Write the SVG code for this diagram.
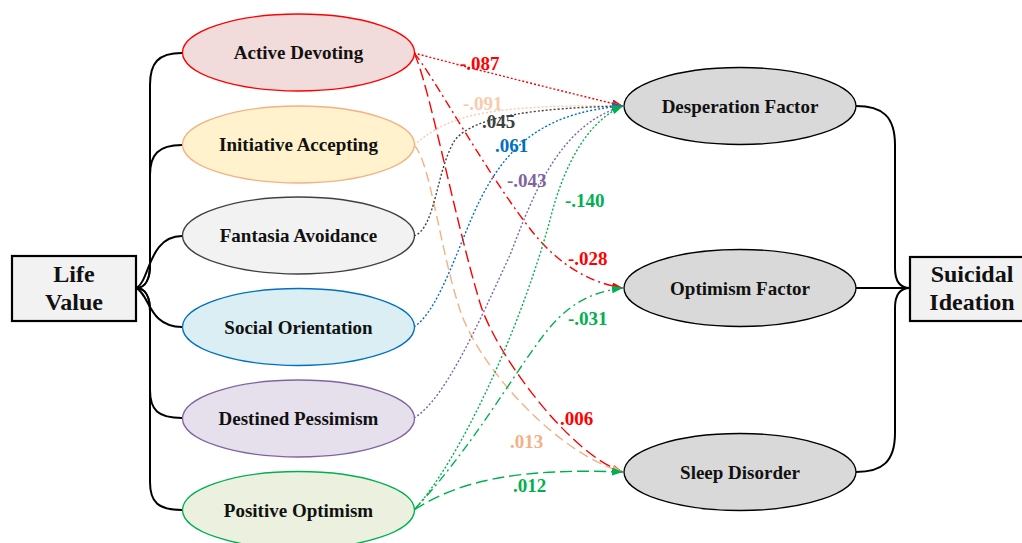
<svg xmlns="http://www.w3.org/2000/svg" width="1022" height="543" viewBox="0 0 1022 543">
<style>
text{font-family:"Liberation Serif","Times New Roman",serif;font-weight:bold;}
.nt{font-size:19px;text-anchor:middle;fill:#111;}
.bt{font-size:24px;text-anchor:middle;fill:#111;}
.lb{font-size:19px;}
.box{fill:#f2f2f2;stroke:#000;stroke-width:2.2;}
.br{fill:none;stroke:#000;stroke-width:2;}
.e{fill:none;stroke-width:1.4;}
.dot{stroke-dasharray:2 2;}
.dd{stroke-dasharray:9 4 2 4;}
.ld{stroke-dasharray:12 5;}
.md{stroke-dasharray:10 5;}
.rt{fill:#d9d9d9;stroke:#000;stroke-width:1.3;}
</style>
<defs>
<marker id="aR" markerUnits="userSpaceOnUse" markerWidth="11" markerHeight="8" refX="11" refY="4" orient="auto"><path d="M0,0 L11,4 L0,8 z" fill="#ff0000"/></marker>
<marker id="aP" markerUnits="userSpaceOnUse" markerWidth="11" markerHeight="8" refX="11" refY="4" orient="auto"><path d="M0,0 L11,4 L0,8 z" fill="#f8cbad"/></marker>
<marker id="aO" markerUnits="userSpaceOnUse" markerWidth="11" markerHeight="8" refX="11" refY="4" orient="auto"><path d="M0,0 L11,4 L0,8 z" fill="#f4b183"/></marker>
<marker id="aK" markerUnits="userSpaceOnUse" markerWidth="11" markerHeight="8" refX="11" refY="4" orient="auto"><path d="M0,0 L11,4 L0,8 z" fill="#404040"/></marker>
<marker id="aB" markerUnits="userSpaceOnUse" markerWidth="11" markerHeight="8" refX="11" refY="4" orient="auto"><path d="M0,0 L11,4 L0,8 z" fill="#0070c0"/></marker>
<marker id="aU" markerUnits="userSpaceOnUse" markerWidth="11" markerHeight="8" refX="11" refY="4" orient="auto"><path d="M0,0 L11,4 L0,8 z" fill="#8064a2"/></marker>
<marker id="aG" markerUnits="userSpaceOnUse" markerWidth="11" markerHeight="8" refX="11" refY="4" orient="auto"><path d="M0,0 L11,4 L0,8 z" fill="#00b050"/></marker>
</defs>

<g id="braces">
<path class="br" d="M136,288 C146,288 150,278 150,265 L150,85 C150,63 158,53 182,53"/>
<path class="br" d="M136,288 C146,288 150,278 150,265 L150,175 C150,155 158,145 182,145"/>
<path class="br" d="M136,288 C150,282 148,236 182,236"/>
<path class="br" d="M136,288 C150,294 148,327 182,327"/>
<path class="br" d="M136,288 C146,288 150,298 150,311 L150,390 C150,410 158,418 182,418"/>
<path class="br" d="M136,288 C146,288 150,298 150,311 L150,482 C150,502 158,510 182,510"/>
<path class="br" d="M856,106 C882,106 895,116 895,145 L895,268 C895,282 900,288 910,288"/>
<path class="br" d="M856,288 L910,288"/>
<path class="br" d="M856,472 C882,472 895,462 895,433 L895,308 C895,294 900,288 910,288"/>
</g>

<g id="connectors">
<path class="e dot" stroke="#ff0000" d="M414,53 Q500,76 623,106" marker-end="url(#aR)"/>
<path class="e dd" stroke="#ff0000" d="M414,53 C430,70 490,180 535,235 C560,265 590,283 623,288" marker-end="url(#aR)"/>
<path class="e ld" stroke="#ff0000" d="M414,53 C428,80 455,220 480,303 C495,353 570,455 623,472" marker-end="url(#aR)"/>
<path class="e dot" stroke="#f8cbad" d="M414,145 C445,120 470,104 623,106" marker-end="url(#aP)"/>
<path class="e md" stroke="#f4b183" d="M414,145 C430,160 440,250 460,310 C480,370 560,455 623,472" marker-end="url(#aO)"/>
<path class="e dot" stroke="#404040" d="M414,236 C436,228 436,170 455,140 C475,115 540,108 623,106" marker-end="url(#aK)"/>
<path class="e dot" stroke="#0070c0" d="M414,327 C440,310 460,240 480,200 C510,140 550,112 623,106" marker-end="url(#aB)"/>
<path class="e dot" stroke="#8064a2" d="M414,418 C445,400 480,320 510,255 C535,190 560,125 623,106" marker-end="url(#aU)"/>
<path class="e dot" stroke="#00b050" d="M414,510 C460,460 520,330 550,220 C565,160 590,120 623,106" marker-end="url(#aG)"/>
<path class="e dd" stroke="#00b050" d="M414,510 C470,450 510,380 540,340 C565,305 590,292 623,288" marker-end="url(#aG)"/>
<path class="e ld" stroke="#00b050" d="M414,510 C460,480 520,468 623,472" marker-end="url(#aG)"/>
</g>

<g id="labels">
<text class="lb" x="460" y="70" fill="#ff0000">-.087</text>
<text class="lb" x="463" y="110" fill="#f8cbad">-.091</text>
<text class="lb" x="482" y="128" fill="#404040">.045</text>
<text class="lb" x="495" y="152" fill="#0070c0">.061</text>
<text class="lb" x="507" y="187" fill="#8064a2">-.043</text>
<text class="lb" x="565" y="207" fill="#00b050">-.140</text>
<text class="lb" x="568" y="265" fill="#ff0000">-.028</text>
<text class="lb" x="568" y="325" fill="#00b050">-.031</text>
<text class="lb" x="560" y="425" fill="#ff0000">.006</text>
<text class="lb" x="510" y="448" fill="#f4b183">.013</text>
<text class="lb" x="513" y="492" fill="#00b050">.012</text>
</g>

<g id="life-value">
<rect class="box" x="12" y="256" width="124" height="65"/>
<text class="bt" x="74" y="282">Life</text>
<text class="bt" x="74" y="310">Value</text>
</g>
<g id="active-devoting">
<ellipse cx="298.5" cy="52.5" rx="116" ry="38.5" fill="#f2dcdb" stroke="#ff0000" stroke-width="1.3"/>
<text class="nt" x="298.5" y="59">Active Devoting</text>
</g>
<g id="initiative-accepting">
<ellipse cx="298.5" cy="144.5" rx="116" ry="38.5" fill="#fff2cc" stroke="#f4b183" stroke-width="1.3"/>
<text class="nt" x="298.5" y="151">Initiative Accepting</text>
</g>
<g id="fantasia-avoidance">
<ellipse cx="298.5" cy="235.5" rx="116" ry="38.5" fill="#f2f2f2" stroke="#404040" stroke-width="1.3"/>
<text class="nt" x="298.5" y="242">Fantasia Avoidance</text>
</g>
<g id="social-orientation">
<ellipse cx="298.5" cy="327" rx="116" ry="38.5" fill="#daeef3" stroke="#0070c0" stroke-width="1.3"/>
<text class="nt" x="298.5" y="333.5">Social Orientation</text>
</g>
<g id="destined-pessimism">
<ellipse cx="298.5" cy="418.5" rx="116" ry="38.5" fill="#e6e0ec" stroke="#8064a2" stroke-width="1.3"/>
<text class="nt" x="298.5" y="425">Destined Pessimism</text>
</g>
<g id="positive-optimism">
<ellipse cx="298.5" cy="510" rx="116" ry="38.5" fill="#ebf1de" stroke="#00b050" stroke-width="1.3"/>
<text class="nt" x="298.5" y="516.5">Positive Optimism</text>
</g>
<g id="desperation-factor">
<ellipse class="rt" cx="740" cy="106" rx="116" ry="38.5"/>
<text class="nt" x="740" y="112.5">Desperation Factor</text>
</g>
<g id="optimism-factor">
<ellipse class="rt" cx="740" cy="288" rx="116" ry="38.5"/>
<text class="nt" x="740" y="294.5">Optimism Factor</text>
</g>
<g id="sleep-disorder">
<ellipse class="rt" cx="740" cy="472" rx="116" ry="38.5"/>
<text class="nt" x="740" y="478.5">Sleep Disorder</text>
</g>
<g id="suicidal-ideation">
<rect class="box" x="910" y="257" width="124" height="64"/>
<text class="bt" x="972" y="282">Suicidal</text>
<text class="bt" x="972" y="310">Ideation</text>
</g>
</svg>
